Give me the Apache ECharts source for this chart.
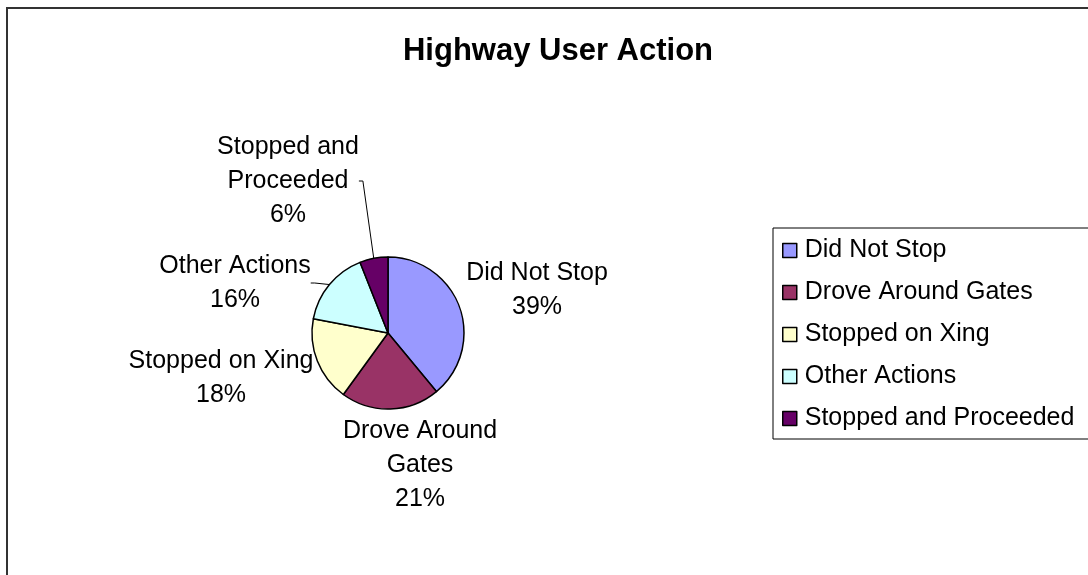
<!DOCTYPE html>
<html>
<head>
<meta charset="utf-8">
<script src="https://cdn.jsdelivr.net/npm/echarts@6/dist/echarts.min.js"></script>
<style>
  html, body { margin: 0; padding: 0; background: #fff; }
  #chart { width: 1088px; height: 575px; }
</style>
</head>
<body>
<div id="chart"></div>
<script>
// data
const categories = ['Did Not Stop', 'Drove Around Gates', 'Stopped on Xing', 'Other Actions', 'Stopped and Proceeded']
const labelNames = ['Did Not Stop', 'Drove Around\nGates', 'Stopped on Xing', 'Other Actions', 'Stopped and\nProceeded']
const values = [39, 21, 18, 16, 6]

const colors = ['#9999FF', '#993366', '#FFFFCC', '#CCFFFF', '#660066']
// label centre positions (px)
const labelPos = [[537, 290], [420, 465], [221, 378], [235, 283], [288, 181]]

const chart = echarts.init(document.getElementById('chart'))

const option = {
  animation: false,
  color: colors,
  title: {
    text: 'Highway User Action',
    left: 553,
    top: 31,
    textAlign: 'center',
    textStyle: {
      fontFamily: 'Liberation Sans',
      fontSize: 31,
      fontWeight: 'bold',
      color: '#000'
    }
  },
  graphic: [{
    type: 'rect',
    shape: { x: 7, y: 8, width: 1200, height: 700 },
    style: { fill: 'none', stroke: '#333', lineWidth: 2 },
    silent: true
  }],
  legend: {
    orient: 'vertical',
    left: 773,
    top: 228,
    icon: 'rect',
    itemWidth: 14,
    itemHeight: 14,
    itemGap: 17,
    padding: [10, 16, 8, 9],
    borderColor: '#000',
    borderWidth: 1,
    itemStyle: { borderColor: '#000', borderWidth: 1.5 },
    textStyle: {
      fontFamily: 'Liberation Sans',
      fontSize: 25,
      color: '#000',
      padding: [0, 0, 0, 3]
    },
    data: categories
  },
  series: [{
    type: 'pie',
    center: [388, 333],
    radius: 76,
    startAngle: 90,
    clockwise: true,
    avoidLabelOverlap: false,
    itemStyle: { borderColor: '#000', borderWidth: 1.5 },
    label: {
      show: true,
      fontFamily: 'Liberation Sans',
      fontSize: 25,
      lineHeight: 34,
      color: '#000',
      align: 'center',
      formatter: (p) => labelNames[p.dataIndex] + '\n' + p.percent + '%'
    },
    labelLine: { show: false, length: 4, length2: 4, lineStyle: { color: '#000', width: 1 } },
    labelLayout: (p) => ({
      x: labelPos[p.dataIndex][0],
      y: labelPos[p.dataIndex][1],
      align: 'center',
      verticalAlign: 'middle'
    }),
    data: values.map((v, i) => ({
      name: categories[i],
      value: v,
      labelLine: { show: i >= 3 }
    }))
  }]
}

chart.setOption(option)
</script>
</body>
</html>
